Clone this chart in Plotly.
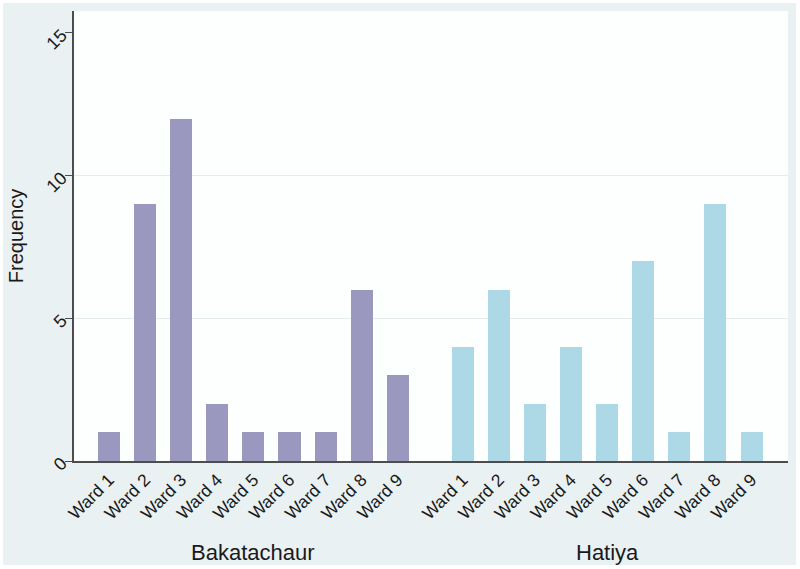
import plotly.graph_objects as go

# ---- data ----
wards = ["Ward 1", "Ward 2", "Ward 3", "Ward 4", "Ward 5", "Ward 6", "Ward 7", "Ward 8", "Ward 9"]
groups = ["Bakatachaur", "Hatiya"]
bakatachaur = [1, 9, 12, 2, 1, 1, 1, 6, 3]
hatiya = [4, 6, 2, 4, 2, 7, 1, 9, 1]
y_ticks = [0, 5, 10, 15]
grid_vals = [5, 10]

# ---- layout parameters ----
GROUP_GAP = 1.8          # spacing (in bar slots) between the last bar of group 1 and first of group 2
bak_x = [i for i in range(len(wards))]
hat_x = [len(wards) - 1 + GROUP_GAP + i for i in range(len(wards))]

PURPLE = "#9b98c0"
LIGHTBLUE = "#add8e6"
TEXT = "#1a1a1a"
AXIS = "#4d4d4d"
BG = "#eaf1f2"
FONT = "Liberation Sans, Arial, Helvetica, sans-serif"

W, H = 800, 569
ML, MR, MT, MB = 74, 12, 11, 108
PW, PH = W - ML - MR, H - MT - MB

def px_to_paper_x(px):
    return (px - ML) / PW

def px_to_paper_y(py):
    return (H - MB - py) / PH

fig = go.Figure()
fig.add_trace(go.Bar(x=bak_x, y=bakatachaur, width=0.61, marker=dict(color=PURPLE, line=dict(width=0)),
                     name=groups[0], showlegend=False, hoverinfo="y"))
fig.add_trace(go.Bar(x=hat_x, y=hatiya, width=0.61, marker=dict(color=LIGHTBLUE, line=dict(width=0)),
                     name=groups[1], showlegend=False, hoverinfo="y"))

# backgrounds
fig.add_shape(type="rect", xref="paper", yref="paper",
              x0=px_to_paper_x(3), x1=px_to_paper_x(796), y0=px_to_paper_y(565), y1=px_to_paper_y(3),
              fillcolor=BG, line=dict(width=0), layer="below")
fig.add_shape(type="rect", xref="paper", yref="paper", x0=0, x1=1, y0=0, y1=1,
              fillcolor="#fdfefe", line=dict(width=0), layer="below")

# group labels
for name, xs in zip(groups, [bak_x, hat_x]):
    fig.add_annotation(x=(xs[0] + xs[-1]) / 2, xref="x", y=px_to_paper_y(552), yref="paper",
                       text=name, showarrow=False, yanchor="middle", xanchor="center",
                       font=dict(size=22, color=TEXT, family=FONT))

fig.update_layout(
    width=W, height=H,
    margin=dict(l=ML, r=MR, t=MT, b=MB),
    paper_bgcolor="white",
    plot_bgcolor="white",
    bargap=0,
    font=dict(family=FONT, color=TEXT),
    xaxis=dict(
        range=[-0.97, hat_x[-1] + 1.01],
        tickvals=bak_x + hat_x,
        ticktext=wards + wards,
        tickangle=-45,
        tickfont=dict(size=17.5, color=TEXT),
        showgrid=False, zeroline=False,
        showline=True, linecolor=AXIS, linewidth=1.5,
        ticks="",
        fixedrange=True,
    ),
    yaxis=dict(
        range=[0, 15.77],
        tickvals=y_ticks,
        ticktext=[str(v) for v in y_ticks],
        tickangle=-45,
        tickfont=dict(size=18, color=TEXT),
        ticks="outside", ticklen=7, tickcolor=AXIS, tickwidth=1.2,
        showgrid=False, zeroline=False,
        showline=True, linecolor=AXIS, linewidth=1.5,
        minor=dict(tickvals=grid_vals, showgrid=True, gridcolor="#e4ecee", gridwidth=1, ticks=""),
        title=dict(text="Frequency", font=dict(size=20, color=TEXT), standoff=14),
        fixedrange=True,
    ),
)

fig.write_html("out.html", config={"displayModeBar": False},
               post_script="document.body.style.margin='0';document.body.style.padding='0';")
